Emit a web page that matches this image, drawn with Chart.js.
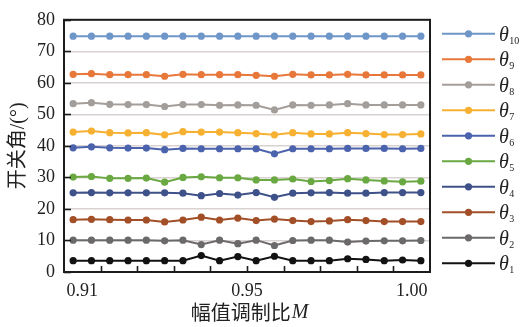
<!DOCTYPE html>
<html>
<head>
<meta charset="utf-8">
<script src="https://cdn.jsdelivr.net/npm/chart.js@4/dist/chart.umd.min.js"></script>
<style>
  html, body { margin: 0; padding: 0; background: #fff; }
  #wrap { width: 520px; height: 327px; position: relative; }
</style>
</head>
<body>
<div id="wrap"><canvas id="c" width="520" height="327"></canvas></div>
<script>
// Switching angles θ1..θ10 (degrees) over 20 modulation-ratio samples
const sampleIndex = [0, 1, 2, 3, 4, 5, 6, 7, 8, 9, 10, 11, 12, 13, 14, 15, 16, 17, 18, 19];

const theta10 = [74.8, 74.8, 74.8, 74.8, 74.8, 74.8, 74.8, 74.8, 74.8, 74.8, 74.8, 74.8, 74.8, 74.8, 74.8, 74.8, 74.8, 74.8, 74.8, 74.8];
const theta9  = [62.7, 62.9, 62.6, 62.6, 62.6, 62.1, 62.7, 62.6, 62.6, 62.6, 62.4, 62.1, 62.7, 62.5, 62.5, 62.7, 62.5, 62.5, 62.5, 62.5];
const theta8  = [53.4, 53.7, 53.2, 53.1, 53.1, 52.5, 53.1, 53.1, 52.9, 53.0, 52.9, 51.4, 53.0, 52.9, 53.0, 53.4, 53.0, 53.0, 53.0, 53.0];
const theta7  = [44.4, 44.7, 44.2, 44.1, 44.2, 43.5, 44.5, 44.4, 44.4, 44.2, 43.9, 43.5, 44.2, 43.8, 43.8, 44.2, 43.9, 43.6, 43.6, 43.8];
const theta6  = [39.4, 39.7, 39.4, 39.3, 39.3, 38.8, 39.2, 39.1, 39.1, 39.1, 39.1, 37.5, 39.1, 39.1, 39.1, 39.2, 39.2, 39.2, 39.1, 39.2];
const theta5  = [30.1, 30.3, 29.7, 29.7, 29.8, 28.5, 30.0, 30.2, 29.9, 29.9, 29.2, 29.2, 29.5, 28.7, 29.0, 29.6, 29.2, 28.9, 28.6, 28.8];
const theta4  = [25.1, 25.2, 25.1, 25.1, 25.1, 25.1, 25.0, 24.2, 24.9, 24.4, 25.2, 23.7, 25.0, 25.1, 25.2, 25.0, 25.0, 25.2, 25.2, 25.2];
const theta3  = [16.6, 16.7, 16.6, 16.5, 16.5, 15.9, 16.5, 17.4, 16.5, 17.1, 16.3, 16.8, 16.3, 16.0, 16.2, 16.6, 16.3, 16.0, 16.0, 16.0];
const theta2  = [10.1, 10.1, 10.1, 10.1, 10.1, 9.9, 10.1, 8.7, 10.1, 9.0, 10.1, 8.4, 10.0, 10.1, 10.1, 9.5, 9.8, 9.9, 9.9, 10.0];
const theta1  = [3.6, 3.6, 3.6, 3.6, 3.6, 3.6, 3.6, 5.2, 3.6, 4.9, 3.6, 5.0, 3.6, 3.6, 3.6, 4.2, 4.0, 3.6, 3.8, 3.6];

const seriesNames  = ['θ10', 'θ9', 'θ8', 'θ7', 'θ6', 'θ5', 'θ4', 'θ3', 'θ2', 'θ1'];
const seriesValues = [theta10, theta9, theta8, theta7, theta6, theta5, theta4, theta3, theta2, theta1];
const seriesColors = ['#6f96c8', '#e8773a', '#a49e9b', '#f6b132', '#4b62ad', '#6aa842', '#3e5189', '#a24f28', '#6c696a', '#121212'];

// x-axis labels and the sample slots they sit on
const xTickLabels = ['0.91', '0.95', '1.00'];
const xTickSlots  = [0.5, 9.5, 18.5];
const yTicks = [0, 10, 20, 30, 40, 50, 60, 70, 80];

const SERIF = '"Liberation Serif", "Times New Roman", serif';
const CJK = '"Noto Sans CJK SC", sans-serif';

const datasets = seriesNames.map((name, k) => ({
  label: name,
  data: sampleIndex.map((x, i) => ({ x: x, y: seriesValues[k][i] })),
  borderColor: seriesColors[k],
  backgroundColor: seriesColors[k],
  borderWidth: 2,
  pointRadius: 3.6,
  pointBorderWidth: 0,
  pointHoverRadius: 3.6,
  tension: 0
}));

// Frame, inward tick marks, x title and the legend with subscripted θ labels
const decorations = {
  id: 'decorations',
  afterDraw(chart) {
    const ctx = chart.ctx;
    const a = chart.chartArea;
    const xs = chart.scales.x, ys = chart.scales.y;
    ctx.save();
    ctx.strokeStyle = '#1c1c1c';
    ctx.lineWidth = 1.6;
    // inward ticks on the value axis
    yTicks.forEach(v => {
      const py = Math.round(ys.getPixelForValue(v)) + 0.5;
      ctx.beginPath(); ctx.moveTo(a.left, py); ctx.lineTo(a.left + 7, py); ctx.stroke();
    });
    // inward ticks on the sample axis, one every two samples
    for (let v = xs.min + 2; v < xs.max; v += 2) {
      const px = Math.round(xs.getPixelForValue(v)) + 0.5;
      ctx.beginPath(); ctx.moveTo(px, a.bottom); ctx.lineTo(px, a.bottom - 6); ctx.stroke();
    }
    // plot frame
    ctx.lineWidth = 2;
    ctx.strokeRect(a.left, a.top, a.right - a.left, a.bottom - a.top);

    // x-axis title with italic M
    ctx.fillStyle = '#222';
    ctx.textBaseline = 'middle';
    const part1 = '幅值调制比', part2 = 'M';
    ctx.font = '20px ' + CJK;
    const w1 = ctx.measureText(part1).width;
    ctx.font = 'italic 20px ' + SERIF;
    const w2 = ctx.measureText(part2).width;
    const cx = (a.left + a.right) / 2 + 2;
    const x0 = cx - (w1 + w2) / 2;
    const ty = 312;
    ctx.textAlign = 'left';
    ctx.font = '20px ' + CJK;
    ctx.fillText(part1, x0, ty);
    ctx.font = 'italic 20px ' + SERIF;
    ctx.fillText(part2, x0 + w1 + 1, ty + 1);

    // legend
    const lx0 = a.right + 12, lx1 = a.right + 65;
    chart.data.datasets.forEach((ds, k) => {
      const y = a.top + 14 + k * 25.5;
      ctx.strokeStyle = ds.borderColor;
      ctx.lineWidth = 2;
      ctx.beginPath(); ctx.moveTo(lx0, y); ctx.lineTo(lx1, y); ctx.stroke();
      ctx.fillStyle = ds.borderColor;
      ctx.beginPath(); ctx.arc((lx0 + lx1) / 2, y, 3.6, 0, Math.PI * 2); ctx.fill();
      ctx.fillStyle = '#222';
      ctx.textBaseline = 'alphabetic';
      ctx.font = 'italic 20px ' + SERIF;
      const base = ds.label.charAt(0), sub = ds.label.slice(1);
      const tx = a.right + 69;
      ctx.fillText(base, tx, y + 7);
      const bw = ctx.measureText(base).width;
      ctx.font = '10px ' + SERIF;
      ctx.fillText(sub, tx + bw + 0.5, y + 10);
    });
    ctx.restore();
  }
};

new Chart(document.getElementById('c'), {
  type: 'line',
  data: { datasets },
  options: {
    responsive: false,
    animation: false,
    devicePixelRatio: 1,
    layout: { padding: { left: 7, right: 90, top: 13, bottom: 0 } },
    plugins: { legend: { display: false }, tooltip: { enabled: false } },
    scales: {
      x: {
        type: 'linear',
        min: -0.5,
        max: 19.5,
        grid: { display: false, drawTicks: false },
        border: { display: false },
        afterBuildTicks(scale) { scale.ticks = xTickSlots.map(v => ({ value: v })); },
        afterFit(scale) { scale.height = 55; },
        ticks: {
          autoSkip: false,
          maxRotation: 0,
          padding: 8,
          color: '#222',
          font: { family: SERIF, size: 18 },
          callback: (v, i) => xTickLabels[i]
        }
      },
      y: {
        min: 0,
        max: 80,
        afterBuildTicks(scale) { scale.ticks = yTicks.map(v => ({ value: v })); },
        afterFit(scale) { scale.width = 57; },
        grid: { color: '#d8d2d0', lineWidth: 1.6, drawTicks: false },
        border: { display: false },
        ticks: {
          padding: 9,
          color: '#222',
          font: { family: SERIF, size: 18 }
        },
        title: {
          display: true,
          text: '开关角/(°)',
          color: '#222',
          padding: { top: 0, bottom: 0 },
          font: { family: SERIF + ', ' + CJK, size: 20 }
        }
      }
    }
  },
  plugins: [decorations]
});
</script>
</body>
</html>
